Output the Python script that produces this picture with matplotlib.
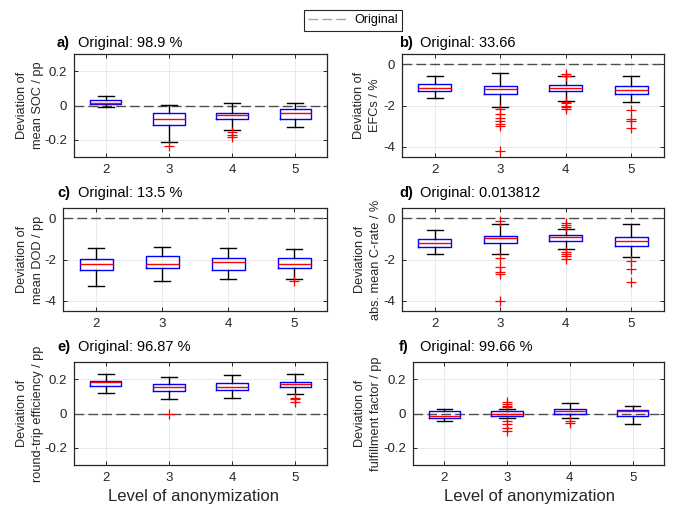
import matplotlib
matplotlib.use("Agg")
from matplotlib import pyplot as plt
from matplotlib.lines import Line2D

plt.rcParams['font.family'] = ['Liberation Sans', 'DejaVu Sans']

levels = [2, 3, 4, 5]

# a) mean SOC
a_med = [0.017, -0.080, -0.058, -0.043]
a_q1 = [0.006, -0.111, -0.080, -0.076]
a_q3 = [0.031, -0.043, -0.043, -0.023]
a_lo = [-0.010, -0.210, -0.140, -0.126]
a_hi = [0.056, 0.004, 0.016, 0.016]
a_fl = [[], [-0.237], [-0.155, -0.169, -0.183], []]

# b) EFCs
b_med = [-1.14, -1.22, -1.14, -1.25]
b_q1 = [-1.28, -1.46, -1.30, -1.46]
b_q3 = [-0.96, -1.06, -1.02, -1.07]
b_lo = [-1.66, -2.07, -1.76, -1.85]
b_hi = [-0.55, -0.44, -0.59, -0.59]
b_fl = [[], [-2.15, -2.4, -2.63, -2.75, -2.88, -3.01, -4.2],
        [-0.47, -0.57, -1.81, -1.9, -2.0, -2.07, -2.16],
        [-2.24, -2.65, -2.75, -3.08]]

# c) mean DOD
c_med = [-2.21, -2.20, -2.13, -2.20]
c_q1 = [-2.50, -2.41, -2.49, -2.39]
c_q3 = [-1.97, -1.85, -1.93, -1.95]
c_lo = [-3.27, -3.02, -2.93, -2.93]
c_hi = [-1.43, -1.37, -1.43, -1.51]
c_fl = [[], [], [], [-3.06]]

# d) abs. mean C-rate
d_med = [-1.19, -0.98, -0.93, -1.12]
d_q1 = [-1.37, -1.20, -1.09, -1.35]
d_q3 = [-1.02, -0.85, -0.81, -0.91]
d_lo = [-1.74, -1.71, -1.51, -1.90]
d_hi = [-0.59, -0.29, -0.50, -0.29]
d_fl = [[], [-0.13, -1.92, -2.36, -2.6, -2.68, -4.0],
        [-0.24, -0.33, -0.41, -1.63, -1.71, -1.84, -1.97],
        [-2.07, -2.47, -3.11]]

# e) round-trip efficiency
e_med = [0.182, 0.153, 0.153, 0.173]
e_q1 = [0.161, 0.129, 0.139, 0.157]
e_q3 = [0.192, 0.171, 0.180, 0.186]
e_lo = [0.118, 0.082, 0.088, 0.112]
e_hi = [0.229, 0.210, 0.224, 0.229]
e_fl = [[], [0.0], [], [0.069, 0.082, 0.088]]

# f) fulfillment factor
f_med = [-0.012, 0.000, 0.012, 0.012]
f_q1 = [-0.024, -0.012, 0.000, -0.016]
f_q3 = [0.012, 0.012, 0.024, 0.020]
f_lo = [-0.041, -0.029, -0.029, -0.059]
f_hi = [0.027, 0.027, 0.059, 0.045]
f_fl = [[], [0.069, 0.055, 0.043, 0.035, -0.043, -0.063, -0.082, -0.1],
        [-0.043, -0.055], []]

W, H = 673, 508
fig = plt.figure(figsize=(W / 100, H / 100), dpi=100)


def px_axes(l, t, r, b):
    return fig.add_axes([l / W, 1 - b / H, (r - l) / W, (b - t) / H])


panels = [
    # letter, title, ylabel, data, rect, ylim, yticks, ticklabels, title x, title y, ylabel x
    ('a)', 'Original: 98.9 %', 'Deviation of\nmean SOC / pp',
     (a_med, a_q1, a_q3, a_lo, a_hi, a_fl), (74, 54, 327, 157),
     (-0.3, 0.3), [-0.2, 0, 0.2], ['-0.2', '0', '0.2'], 57, 47, 30),
    ('b)', 'Original: 33.66', 'Deviation of\nEFCs / %',
     (b_med, b_q1, b_q3, b_lo, b_hi, b_fl), (402, 54, 664, 157),
     (-4.5, 0.5), [-4, -2, 0], ['-4', '-2', '0'], 399, 47, 367),
    ('c)', 'Original: 13.5 %', 'Deviation of\nmean DOD / pp',
     (c_med, c_q1, c_q3, c_lo, c_hi, c_fl), (63, 208, 327, 311),
     (-4.5, 0.5), [-4, -2, 0], ['-4', '-2', '0'], 57, 197, 30),
    ('d)', 'Original: 0.013812', 'Deviation of\nabs. mean C-rate / %',
     (d_med, d_q1, d_q3, d_lo, d_hi, d_fl), (402, 208, 664, 311),
     (-4.5, 0.5), [-4, -2, 0], ['-4', '-2', '0'], 399, 197, 368),
    ('e)', 'Original: 96.87 %', 'Deviation of\nround-trip efficiency / pp',
     (e_med, e_q1, e_q3, e_lo, e_hi, e_fl), (74, 362, 327, 465),
     (-0.3, 0.3), [-0.2, 0, 0.2], ['-0.2', '0', '0.2'], 57, 351, 30),
    ('f)', 'Original: 99.66 %', 'Deviation of\nfulfillment factor / pp',
     (f_med, f_q1, f_q3, f_lo, f_hi, f_fl), (413, 362, 664, 465),
     (-0.3, 0.3), [-0.2, 0, 0.2], ['-0.2', '0', '0.2'], 399, 351, 368),
]

dark = '#262626'

for letter, title, ylab, data, rect, ylim, yt, ytl, tx, ty, ylx in panels:
    med, q1, q3, lo, hi, fl = data
    ax = px_axes(*rect)
    stats = [dict(med=m, q1=a, q3=b, whislo=w1, whishi=w2, fliers=f)
             for m, a, b, w1, w2, f in zip(med, q1, q3, lo, hi, fl)]
    ax.axhline(0, color='#4d4d4d', lw=1.0, dashes=(7, 3), zorder=1)
    ax.bxp(stats, positions=levels, widths=0.5, showfliers=True,
           boxprops=dict(color='blue', lw=1.0),
           medianprops=dict(color='red', lw=1.0),
           whiskerprops=dict(color='black', lw=1.0),
           capprops=dict(color='black', lw=1.0),
           flierprops=dict(marker='+', markeredgecolor='red',
                           markersize=7, markeredgewidth=0.9, linestyle='none'))
    ax.set_xlim(1.5, 5.5)
    ax.set_ylim(*ylim)
    ax.set_xticks(levels)
    ax.set_xticklabels([str(v) for v in levels])
    ax.set_yticks(yt)
    ax.set_yticklabels(ytl)
    ax.grid(True, color='#e6e6e6', lw=0.6, zorder=0)
    ax.set_axisbelow(True)
    ax.tick_params(direction='in', length=3, top=True, right=True,
                   labelsize=9.5, colors=dark, width=0.7, pad=5)
    for s in ax.spines.values():
        s.set_color(dark)
        s.set_linewidth(0.9)
    cy = (rect[1] + rect[3]) / 2
    fig.text(ylx / W, 1 - cy / H, ylab, rotation=90, ha='center', va='center',
             fontsize=9.2, linespacing=1.55, color=dark, multialignment='center')
    fig.text(tx / W, 1 - ty / H, letter, fontweight='bold', fontsize=10.5,
             color='black', va='baseline')
    fig.text((tx + 21) / W, 1 - ty / H, title, fontsize=10.5,
             color='black', va='baseline')

fig.text(193 / W, 1 - 497 / H, 'Level of anonymization', ha='center',
         va='center', fontsize=12, color=dark)
fig.text(530 / W, 1 - 497 / H, 'Level of anonymization', ha='center',
         va='center', fontsize=12, color=dark)

proxy = Line2D([], [], color='#a6a6a6', lw=1.0, dashes=(7, 3))
leg = fig.legend([proxy], ['Original'], loc='center',
                 bbox_to_anchor=(353 / W, 1 - 20.5 / H), fontsize=9,
                 fancybox=False, edgecolor=dark, framealpha=1,
                 handlelength=3.2, borderpad=0.35, handletextpad=0.5)
leg.get_frame().set_linewidth(0.8)

fig.savefig('out.png', dpi=100)
